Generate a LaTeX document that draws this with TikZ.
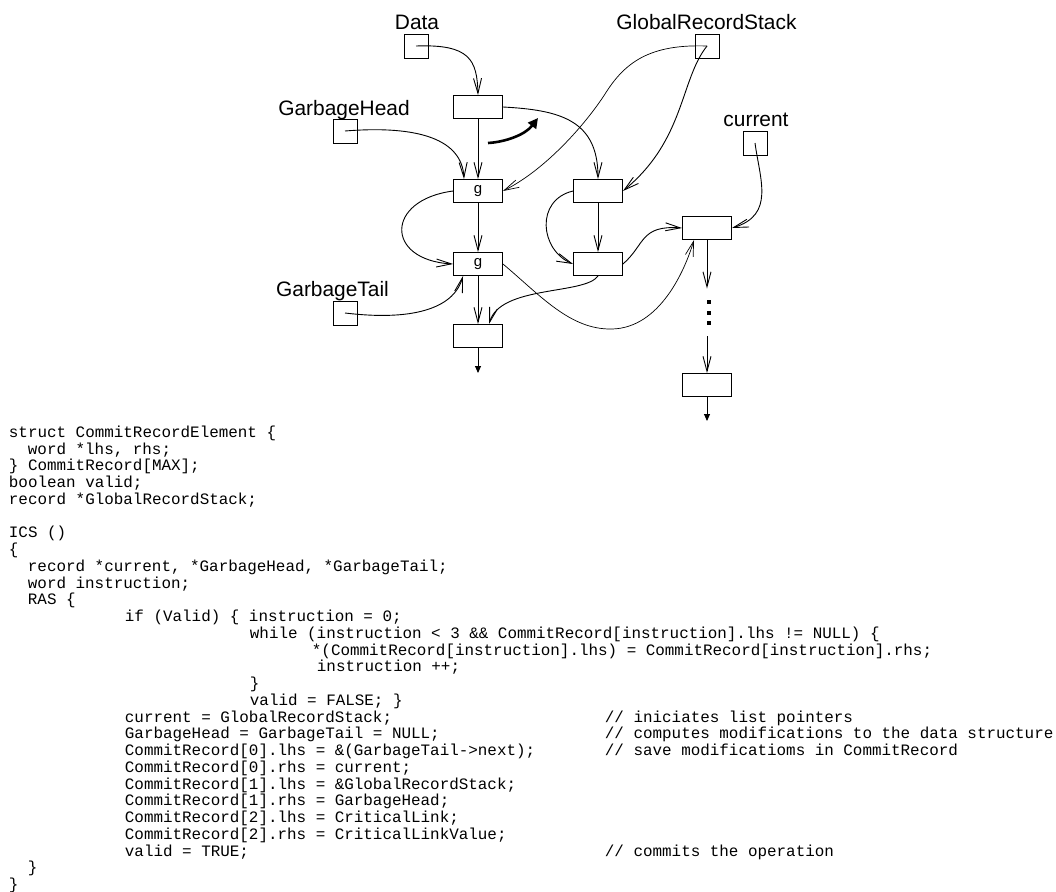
\documentclass[tikz,border=0pt]{standalone}
\usepackage{fontspec}
\usepackage{tikz}
\usetikzlibrary{arrows.meta}
\newfontfamily\labelfont{Liberation Sans}
\newfontfamily\codefont{Liberation Mono}
\newcommand\ind[1]{\hspace*{#1pt}}
\newcommand\cmt[2]{\makebox[596pt][l]{#1}// #2}

\begin{document}
\begin{tikzpicture}[x=1pt, y=-1pt, line width=0.9pt,
    >={Straight Barb[length=15pt,width=8pt]},
    ptr/.style={draw, minimum width=24pt, minimum height=24pt, inner sep=0pt},
    rec/.style={draw, minimum width=49pt, minimum height=23pt, inner sep=0pt,
        font=\labelfont\fontsize{15}{18}\selectfont},
    tag/.style={font=\labelfont\fontsize{20.9}{24}\selectfont, anchor=base, inner sep=0pt},
    stub/.style={-{Triangle[length=7pt,width=6pt]}},
    listing/.style={font=\codefont\fontsize{15.9}{16.75}\selectfont\frenchspacing,
        align=left, anchor=north west, inner sep=0pt}]
    \useasboundingbox (0,0) rectangle (1056,891);

    % pointer variables
    \node (data) at (416,46) [ptr] {};
    \node (grs) at (707,46) [ptr] {};
    \node (gh) at (345,131) [ptr] {};
    \node (cur) at (755,143) [ptr] {};
    \node (gt) at (345,313) [ptr] {};
    \node (dataL) at (417,30) [tag] {Data};
    \node (grsL) at (706.5,30) [tag] {GlobalRecordStack};
    \node (ghL) at (344,115) [tag] {GarbageHead};
    \node (curL) at (756,126.5) [tag] {current};
    \node (gtL) at (332.5,296.7) [tag] {GarbageTail};

    % records
    \node (top) at (478,107) [rec] {};
    \node (g1) at (478,191) [rec] {g};
    \node (g2) at (478,264) [rec] {g};
    \node (last) at (478,336) [rec] {};
    \node (b1) at (598,191) [rec] {};
    \node (b2) at (598,264) [rec] {};
    \node (c1) at (707,228) [rec] {};
    \node (c2) at (707,385) [rec] {};
    \node (dots) at (707,312.5) [minimum width=4pt, minimum height=47pt, inner sep=0pt] {};
    \foreach \k in {302,313,323}
        \fill (707,\k) +(0,-2) rectangle +(4,2);
    \coordinate (lastEnd) at (478,373);
    \coordinate (c2End) at (707,421);
    \coordinate (mvS) at (488,143);
    \coordinate (mvE) at (538,118);

    % links
    \draw[->] (data.center) .. controls (470,44) and (477,60) .. (top.north);
    \draw[->] (top) -- (g1);
    \draw[->] (top.east) .. controls (560,110) and (598,120) .. (b1.north);
    \draw[->] (gh.center) .. controls (420,125) and (462,140) .. ([xshift=-14pt]g1.north);
    \draw[->, line width=0.7pt] (grs.center) .. controls (650,44) and (625,62) .. (605,94)
        .. controls (585,125) and (545,170) .. (g1.east);
    \draw[->] (grs.center) .. controls (680,80) and (685,140) .. (b1.east);
    \draw[->] (cur.center) .. controls (760,180) and (775,215) .. (c1.east);
    \draw[->] (g1) -- (g2);
    \draw[->] (g1.west) .. controls (385,200) and (385,260) .. (g2.west);
    \draw[->] (gt.center) .. controls (420,322) and (455,305) .. ([xshift=-15pt]g2.south);
    \draw[->] (g2) -- (last);
    \draw[->, line width=0.7pt] (g2.east) .. controls (540,295) and (570,330) .. (612,329)
        .. controls (660,328) and (685,270) .. ([xshift=-13pt]c1.south);
    \draw[->] (b1.west) .. controls (535,200) and (540,250) .. (b2.west);
    \draw[->] (b1) -- (b2);
    \draw[->] (b2.east) .. controls (645,245) and (640,225) .. (c1.west);
    \draw[->] (b2.south) .. controls (585,295) and (500,285) .. ([xshift=11pt]last.north);
    \draw[->] (c1) -- (dots);
    \draw[->] (dots) -- (c2);
    \draw[stub] (c2) -- (c2End);
    \draw[stub] (last) -- (lastEnd);
    \draw[line width=2.6pt, -{Triangle[length=10pt,width=10pt]}] (mvS)
        .. controls (505,142) and (525,135) .. (mvE);

    % code
    \node (listing) at (8.5,423) [listing] {%
\rule{0pt}{14pt}struct CommitRecordElement \{\\
\ind{19}word *lhs, rhs;\\
\} CommitRecord[MAX];\\
boolean valid;\\
record *GlobalRecordStack;\\
\mbox{}\\
ICS ()\\
\{\\
\ind{19}record *current, *GarbageHead, *GarbageTail;\\
\ind{19}word instruction;\\
\ind{19}RAS \{\\
\ind{116}if (Valid) \{ instruction = 0;\\
\ind{241}while (instruction < 3 \&\& CommitRecord[instruction].lhs != NULL) \{\\
\ind{303}*(CommitRecord[instruction].lhs) = CommitRecord[instruction].rhs;\\
\ind{308}instruction ++;\\
\ind{241}\}\\
\ind{241}valid = FALSE; \}\\
\cmt{\ind{116}current = GlobalRecordStack;}{iniciates list pointers}\\
\cmt{\ind{116}GarbageHead = GarbageTail = NULL;}{computes modifications to the data structure}\\
\cmt{\ind{116}CommitRecord[0].lhs = \&(GarbageTail->next);}{save modificatioms in CommitRecord}\\
\ind{116}CommitRecord[0].rhs = current;\\
\ind{116}CommitRecord[1].lhs = \&GlobalRecordStack;\\
\ind{116}CommitRecord[1].rhs = GarbageHead;\\
\ind{116}CommitRecord[2].lhs = CriticalLink;\\
\ind{116}CommitRecord[2].rhs = CriticalLinkValue;\\
\cmt{\ind{116}valid = TRUE;}{commits the operation}\\
\ind{19}\}\\
\}};
\end{tikzpicture}
\end{document}
